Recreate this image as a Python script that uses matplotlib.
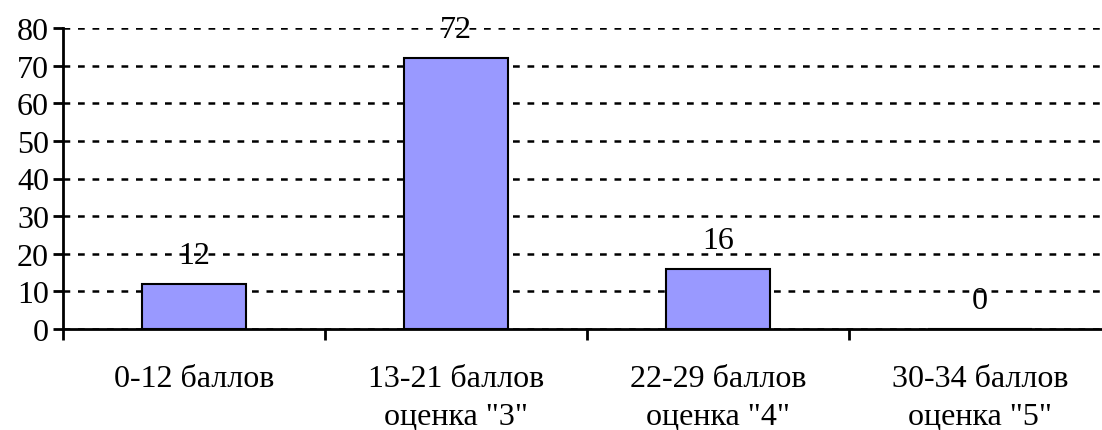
import matplotlib
matplotlib.use("Agg")
import matplotlib.pyplot as plt

categories = ['0-12 баллов', '13-21 баллов\nоценка "3"', '22-29 баллов\nоценка "4"', '30-34 баллов\nоценка "5"']
values = [12, 72, 16, 0]
yticks = [0, 10, 20, 30, 40, 50, 60, 70, 80]

plt.rcParams['font.family'] = ['Liberation Serif', 'DejaVu Serif']
FS = 23

fig = plt.figure(figsize=(11.02, 4.31), dpi=100)
ax = fig.add_axes([63/1102, 101/431, 1048/1102, 301/431])

x = list(range(len(categories)))
bars = ax.bar(x, values, width=0.4, color='#9999FF', edgecolor='black', linewidth=1.5, zorder=3)

for xi, v in zip(x, values):
    ax.annotate(str(v), (xi, v), xytext=(0, 10), textcoords='offset points',
                ha='center', va='bottom', fontsize=FS, zorder=1)

ax.set_xlim(-0.5, 3.5)
ax.set_ylim(0, 80)
ax.set_yticks(yticks)
ax.set_yticklabels([str(t) for t in yticks], fontsize=FS)
ax.yaxis.grid(True, color='black', linestyle=(0, (2.7, 3.1)), linewidth=1.8, zorder=0)
ax.set_axisbelow(True)

ax.set_xticks([-0.5, 0.5, 1.5, 2.5], minor=False)
ax.set_xticklabels([])
ax.set_xticks(x, minor=True)
ax.set_xticklabels(categories, minor=True, fontsize=FS, linespacing=1.4)
ax.tick_params(axis='x', which='major', length=8, width=2, direction='out')
ax.tick_params(axis='x', which='minor', length=0, pad=25)
ax.tick_params(axis='y', length=7, width=2, direction='out', pad=3)

for s in ['top', 'right']:
    ax.spines[s].set_visible(False)
for s in ['left', 'bottom']:
    ax.spines[s].set_linewidth(2)

fig.savefig('out.png', dpi=100)
